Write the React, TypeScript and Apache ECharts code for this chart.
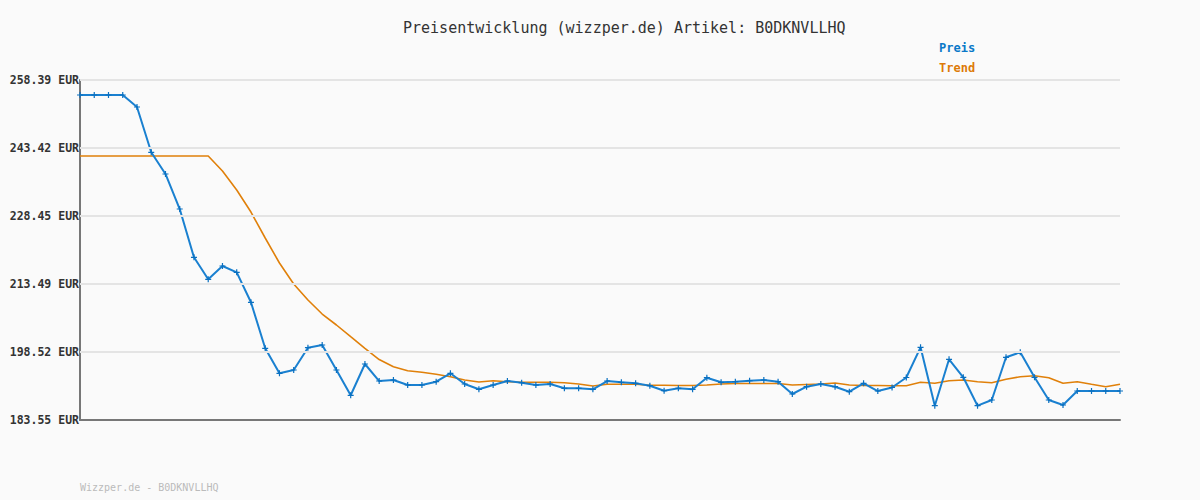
import React, { useEffect, useRef } from "react";
import * as echarts from "echarts";

const titleText = "Preisentwicklung (wizzper.de) Artikel: B0DKNVLLHQ";
const footerText = "Wizzper.de - B0DKNVLLHQ";

const yTicks = [183.55, 198.52, 213.49, 228.45, 243.42, 258.39];

const preis = [
  255.09, 255.09, 255.09, 255.09, 252.45, 242.48, 237.7, 229.99, 219.36, 214.52,
  217.45, 216.06, 209.46, 199.33, 193.83, 194.56, 199.46, 200.06, 194.56, 188.99,
  195.88, 192.13, 192.35, 191.25, 191.25, 191.98, 193.83, 191.47, 190.31, 191.25,
  192.13, 191.76, 191.25, 191.47, 190.53, 190.53, 190.31, 192.13, 191.85, 191.63,
  191.1, 190.0, 190.53, 190.31, 192.86, 191.85, 191.98, 192.2, 192.35, 191.98,
  189.27, 190.88, 191.47, 190.88, 189.78, 191.63, 189.93, 190.7, 192.9, 199.55,
  186.7, 196.91, 192.95, 186.7, 187.95, 197.35, 198.45, 192.95, 187.95, 186.85,
  189.93, 189.93, 189.93, 189.93,
];

const trend = [
  241.66, 241.66, 241.66, 241.66, 241.66, 241.66, 241.66, 241.66, 241.66, 241.66,
  238.36, 234.18, 229.33, 223.61, 218.11, 213.49, 209.96, 206.88, 204.46, 201.88,
  199.33, 196.86, 195.28, 194.4, 194.05, 193.61, 193.08, 192.35, 191.91, 192.2,
  191.98, 191.85, 191.85, 191.85, 191.76, 191.47, 191.03, 191.41, 191.41, 191.41,
  191.19, 191.19, 191.14, 191.14, 191.25, 191.47, 191.58, 191.58, 191.58, 191.58,
  191.25, 191.36, 191.47, 191.69, 191.25, 191.14, 191.14, 191.1, 191.1, 191.85,
  191.63, 192.2, 192.35, 191.98, 191.76, 192.51, 193.08, 193.3, 192.86, 191.63,
  191.98, 191.41, 190.88, 191.41,
];

const categories = preis.map((_, i) => String(i + 1));

const MONO = "'DejaVu Sans Mono', 'Liberation Mono', monospace";
const BLUE = "#1a80d0";
const ORANGE = "#e0800a";

export default function App() {
  const ref = useRef<HTMLDivElement>(null);
  useEffect(() => {
    if (!ref.current) return;
    const chart = echarts.init(ref.current, undefined, { renderer: "svg" });
    chart.setOption({
      animation: false,
      backgroundColor: "#fafafa",
      title: {
        text: titleText,
        left: 403,
        top: 20,
        padding: 0,
        textStyle: { fontFamily: MONO, fontSize: 15, fontWeight: "normal", color: "#333" },
      },
      legend: {
        orient: "vertical",
        left: 929,
        top: 37,
        itemGap: 8,
        itemWidth: 0,
        itemHeight: 0,
        icon: "rect",
        data: [
          { name: "Preis", textStyle: { color: "#0a78c8" } },
          { name: "Trend", textStyle: { color: "#dd7a08" } },
        ],
        textStyle: { fontFamily: MONO, fontSize: 12, fontWeight: "bold" },
      },
      graphic: [
        {
          type: "text",
          left: 80,
          top: 482,
          style: { text: footerText, fill: "#bbbbbb", font: `10px ${MONO}` },
        },
      ],
      grid: { left: 80, right: 80, top: 80, bottom: 80 },
      xAxis: {
        type: "category",
        data: categories,
        boundaryGap: false,
        axisLine: { lineStyle: { color: "#777", width: 2 } },
        axisTick: { show: false },
        axisLabel: { show: false },
        splitLine: { show: false },
      },
      yAxis: {
        type: "value",
        min: yTicks[0],
        max: yTicks[yTicks.length - 1],
        axisLine: { show: true, lineStyle: { color: "#777", width: 2 } },
        axisTick: { show: false },
        splitLine: { show: false },
        axisLabel: {
          customValues: yTicks,
          formatter: (v: number) => v.toFixed(2) + " EUR",
          fontFamily: MONO,
          fontSize: 11.5,
          fontWeight: "bold",
          color: "#333",
          margin: 1,
        },
      },
      series: [
        {
          name: "grid",
          type: "line",
          data: [],
          z: 1,
          silent: true,
          markLine: {
            silent: true,
            symbol: ["none", "none"],
            label: { show: false },
            lineStyle: { color: "#e4e4e4", width: 2, type: "solid" },
            data: yTicks.slice(1).map((v) => ({ yAxis: v })),
          },
        },
        {
          name: "Trend",
          type: "line",
          data: trend,
          z: 3,
          showSymbol: false,
          symbol: "none",
          lineStyle: { color: ORANGE, width: 1.6 },
          itemStyle: { color: ORANGE },
        },
        {
          name: "Preis",
          type: "line",
          data: preis,
          z: 4,
          symbol: "path://M2 0H3V2H5V3H3V5H2V3H0V2H2Z",
          symbolSize: 6,
          lineStyle: { color: BLUE, width: 2 },
          itemStyle: { color: "#0a70c0" },
        },
      ],
    });
    return () => chart.dispose();
  }, []);
  return (
    <div
      ref={ref}
      style={{ position: "fixed", left: 0, top: 0, width: 1200, height: 500 }}
    />
  );
}
